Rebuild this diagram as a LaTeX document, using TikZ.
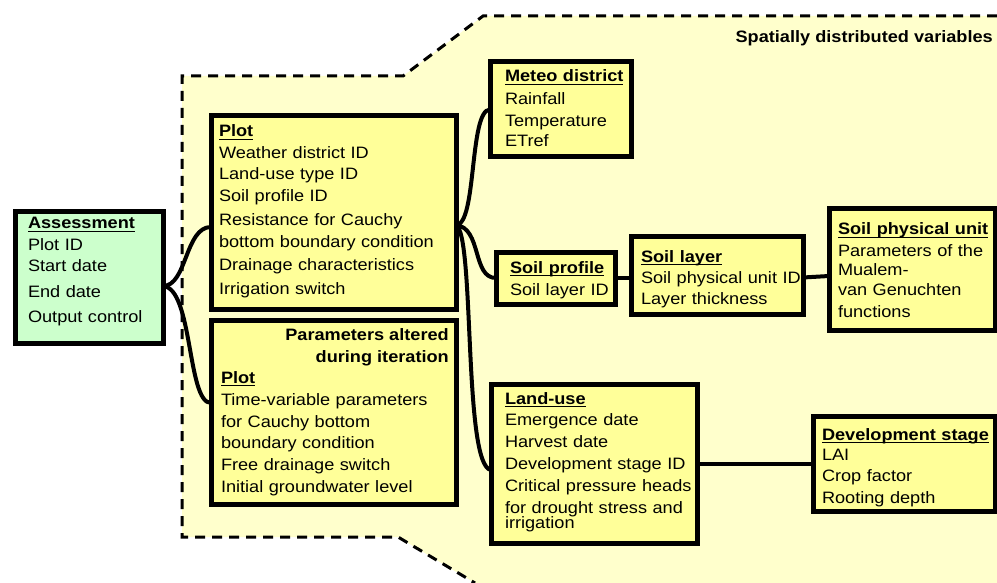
\documentclass[tikz,border=0pt]{standalone}
\usepackage{fontspec}
\setmainfont{Liberation Sans}[FakeStretch=1.1]
\usetikzlibrary{calc}
\definecolor{bgyellow}{HTML}{FFFFCC}
\definecolor{boxyellow}{HTML}{FFFF99}
\definecolor{boxgreen}{HTML}{CCFFCC}
\newcommand\hdrtxt[1]{\setbox0\hbox{\textbf{#1}}\rlap{\rule[-3.3pt]{\wd0}{1.7pt}}\box0}
\tikzset{
  ybox/.style={draw=black, line width=5pt, fill=boxyellow, rectangle, inner sep=0pt, outer sep=0pt},
  gbox/.style={ybox, fill=boxgreen},
  txt/.style={anchor=base west, inner sep=0pt, outer sep=0pt, align=left, text width=11cm,
    font=\fontsize{16.5}{22}\selectfont},
  conn/.style={line width=4pt, black},
  dashline/.style={line width=3pt, dash pattern=on 10pt off 7pt, black}
}
\begin{document}
\begin{tikzpicture}[x=1pt, y=-1pt]
\useasboundingbox (0,0) rectangle (997,583);
% background region
\fill[bgyellow] (182,76) -- (403,76) -- (483,16) -- (997,16) -- (997,583) -- (475,583) -- (398,537) -- (182,537) -- cycle;
\draw[dashline] (997,16) -- (483,16) -- (403,76) -- (182,76) -- (182,537) -- (398,537) -- (475,583);
\node[anchor=base east, inner sep=0pt, font=\fontsize{16.5}{22}\selectfont\bfseries] (title) at (993,43) {Spatially distributed variables};

% boxes
\node[gbox, minimum width=148pt, minimum height=131pt] (assess) at (89,277.5) {};
\node[ybox, minimum width=245pt, minimum height=193pt] (plot) at (333.5,212.5) {};
\node[ybox, minimum width=245pt, minimum height=184pt] (plotb) at (333.5,412) {};
\node[ybox, minimum width=141pt, minimum height=95pt] (meteo) at (560.5,109.5) {};
\node[ybox, minimum width=119pt, minimum height=52pt] (sprof) at (555.5,278) {};
\node[ybox, minimum width=172pt, minimum height=77pt] (slayer) at (717,275.5) {};
\node[ybox, minimum width=166pt, minimum height=121pt] (sphys) at (912,269.5) {};
\node[ybox, minimum width=206pt, minimum height=159pt] (landuse) at (594,463.5) {};
\node[ybox, minimum width=182pt, minimum height=95pt] (dev) at (904,463.5) {};

% texts
\node[txt] (t_assess) at (28,229) {\hdrtxt{Assessment}\\Plot ID\\[-1pt]Start date\\[4pt]End date\\[3pt]Output control};
\node[txt] (t_plot) at (219,137) {\hdrtxt{Plot}\\Weather district ID\\[-1pt]Land-use type ID\\Soil profile ID\\[2pt]Resistance for Cauchy\\bottom boundary condition\\[1pt]Drainage characteristics\\[2pt]Irrigation switch};
\node[anchor=base east, inner sep=0pt, align=right, font=\fontsize{16.5}{22}\selectfont\bfseries] (t_param) at (449,362) {Parameters altered\\during iteration};
\node[txt] (t_plotb) at (221,383) {\hdrtxt{Plot}\\Time-variable parameters\\for Cauchy bottom\\[-1pt]boundary condition\\Free drainage switch\\Initial groundwater level};
\node[txt] (t_meteo) at (505,82) {\hdrtxt{Meteo district}\\[1pt]Rainfall\\Temperature\\[-2pt]ETref};
\node[txt] (t_sprof) at (510,273) {\hdrtxt{Soil profile}\\Soil layer ID};
\node[txt] (t_slayer) at (641,262) {\hdrtxt{Soil layer}\\[-1pt]Soil physical unit ID\\[-1pt]Layer thickness};
\node[txt] (t_sphys) at (838,235) {\hdrtxt{Soil physical unit}\\Parameters of the\\[-4pt]Mualem-\\[-1pt]van Genuchten\\functions};
\node[txt] (t_land) at (505,404) {\hdrtxt{Land-use}\\[-1pt]Emergence date\\Harvest date\\Development stage ID\\Critical pressure heads\\for drought stress and\\[-7pt]irrigation};
\node[txt] (t_dev) at (822,440) {\hdrtxt{Development stage}\\[-2pt]LAI\\[-1pt]Crop factor\\Rooting depth};

% attach points
\coordinate (aR) at ([yshift=-8.5pt]assess.east);
\coordinate (pL) at ([yshift=-14.5pt]plot.west);
\coordinate (pbL) at ([yshift=9pt]plotb.west);
\coordinate (pR) at ([yshift=-12.5pt]plot.east);
\coordinate (mL) at (meteo.west);
\coordinate (luL) at ([yshift=-6.5pt]landuse.west);
\coordinate (slL) at ([yshift=-2.5pt]slayer.west);
\coordinate (slR) at ([yshift=-2pt]slayer.east);
\coordinate (spR) at ([yshift=-6.5pt]sphys.west);

% connectors
\draw[conn] (aR) .. controls (187,286) and (185,227) .. (pL);
\draw[conn] (aR) .. controls (193,288) and (187,403) .. (pbL);
\draw[conn] (pR) .. controls (477,225) and (469,110) .. (mL);
\draw[conn] (pR) .. controls (482,228) and (472,278) .. (sprof.west);
\draw[conn] (pR) .. controls (475,235) and (463,466) .. (luL);
\draw[conn] (sprof.east) -- (slL);
\draw[conn] (slR) -- (spR);
\draw[conn] (landuse.east) -- (dev.west);
\end{tikzpicture}
\end{document}
